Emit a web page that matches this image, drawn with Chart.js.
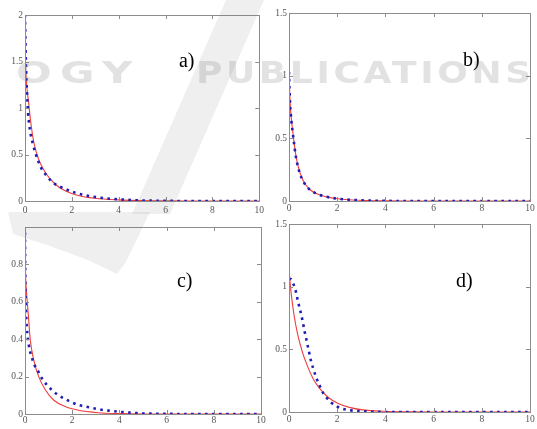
<!DOCTYPE html>
<html>
  <head>
    <script src="https://cdn.jsdelivr.net/npm/chart.js@4.4.0/dist/chart.umd.min.js"></script>
    <style type="text/css">
      body { margin: 0; background: #ffffff; }
      .page { position: relative; width: 537px; height: 429px; overflow: hidden; background: #ffffff; }
      .page canvas { position: absolute; }
      .mark { position: absolute; left: 0; top: 0; width: 537px; height: 429px; pointer-events: none; }
      .mark .word { position: absolute; top: 55px; white-space: nowrap; transform-origin: 0 0;
        font: bold 30px "DejaVu Sans"; color: rgba(110, 110, 110, 0.2); }
      .mark .w1 { left: 16px; letter-spacing: 6px; transform: scaleX(1.4); }
      .mark .w2 { left: 196px; letter-spacing: 3px; transform: scaleX(1.2); }
      .mark .slash { position: absolute; left: 0; top: 0; width: 537px; height: 429px;
        background: rgba(110, 110, 110, 0.11);
        clip-path: polygon(226px 0, 264px 0, 170px 214px, 132px 214px); }
      .mark .swoosh { position: absolute; left: 0; top: 0; width: 537px; height: 429px;
        background: rgba(110, 110, 110, 0.11);
        clip-path: polygon(8px 212px, 150px 212px, 126px 262px, 117px 274px, 88px 260px, 50px 246px, 13px 234px); }
    </style>
  </head>

  <body>
    <div class="page">
      <canvas id="pa" width="268" height="214" style="left: 0; top: 0;"></canvas>
      <canvas id="pb" width="269" height="214" style="left: 268px; top: 0;"></canvas>
      <canvas id="pc" width="268" height="215" style="left: 0; top: 214px;"></canvas>
      <canvas id="pd" width="269" height="215" style="left: 268px; top: 214px;"></canvas>
      <div class="mark">
        <div class="slash"></div>
        <div class="swoosh"></div>
        <div class="word w1">OGY</div>
        <div class="word w2">PUBLICATIONS</div>
      </div>
    </div>

    <script type="text/javascript">
      // x ticks shared by all four panels
      var xTicks = [0, 2, 4, 6, 8, 10];

      // panel a)
      var redA = [[0, 1.7], [0.03, 1.4], [0.08, 1.22], [0.16, 1.05], [0.22, 0.9], [0.37, 0.64], [0.58, 0.45],
        [0.86, 0.31], [1.29, 0.18], [1.71, 0.11], [2.27, 0.06], [2.98, 0.03], [4, 0.012], [5, 0.004], [6, 0.001], [7, 0], [10, 0]];
      var blueA = [[0, 2.0], [0.02, 1.7], [0.05, 1.4], [0.08, 1.2], [0.13, 0.95], [0.22, 0.75], [0.33, 0.62], [0.44, 0.52],
        [0.58, 0.42], [0.72, 0.34], [0.93, 0.27], [1.14, 0.21], [1.36, 0.17], [1.57, 0.145], [1.85, 0.115], [2.13, 0.09],
        [2.49, 0.065], [2.91, 0.046], [3.33, 0.032], [3.76, 0.022], [4.25, 0.014], [5, 0.006], [6, 0.002], [7, 0], [10, 0]];
      var yTicksA = [0, 0.5, 1, 1.5, 2];

      // panel b)
      var redB = [[0, 1.05], [0.02, 0.91], [0.05, 0.77], [0.1, 0.65], [0.14, 0.58], [0.21, 0.47], [0.28, 0.37], [0.39, 0.27],
        [0.53, 0.185], [0.69, 0.13], [0.9, 0.086], [1.18, 0.055], [1.52, 0.034], [1.94, 0.02], [2.5, 0.01], [3.2, 0.004],
        [4, 0.001], [5, 0], [10, 0]];
      var blueB = [[0, 1.03], [0.02, 0.9], [0.05, 0.76], [0.1, 0.64], [0.14, 0.57], [0.21, 0.46], [0.28, 0.36], [0.39, 0.26],
        [0.53, 0.18], [0.69, 0.128], [0.9, 0.085], [1.18, 0.055], [1.52, 0.035], [1.94, 0.02], [2.5, 0.01], [3.2, 0.004],
        [4, 0.001], [5, 0], [10, 0]];
      var yTicksB = [0, 0.5, 1, 1.5];

      // panel c)
      var redC = [[0, 0.85], [0.03, 0.72], [0.09, 0.61], [0.16, 0.5], [0.22, 0.4], [0.37, 0.29], [0.58, 0.2], [0.86, 0.13],
        [1.21, 0.075], [1.7, 0.04], [2.27, 0.02], [3.1, 0.007], [4, 0.002], [5, 0], [10, 0]];
      var blueC = [[0, 0.97], [0.01, 0.78], [0.02, 0.66], [0.04, 0.56], [0.08, 0.46], [0.16, 0.37], [0.27, 0.31], [0.41, 0.26],
        [0.55, 0.23], [0.72, 0.19], [0.93, 0.155], [1.14, 0.128], [1.36, 0.105], [1.64, 0.084], [1.92, 0.066], [2.27, 0.048],
        [2.7, 0.036], [3.12, 0.025], [3.55, 0.018], [3.97, 0.012], [4.4, 0.008], [5, 0.003], [6, 0.001], [7, 0], [10, 0]];
      var yTicksC = [0, 0.2, 0.4, 0.6, 0.8, 1];

      // panel d)
      var redD = [[0, 1.15], [0.05, 1.02], [0.1, 0.93], [0.22, 0.76], [0.36, 0.62], [0.57, 0.47], [0.78, 0.36], [0.99, 0.27],
        [1.26, 0.19], [1.61, 0.12], [2.02, 0.07], [2.5, 0.037], [3.06, 0.017], [3.9, 0.006], [5, 0.001], [6, 0], [10, 0]];
      var blueD = [[0, 1.06], [0.08, 1.06], [0.16, 1.03], [0.26, 0.98], [0.33, 0.92], [0.4, 0.86], [0.48, 0.8], [0.56, 0.73],
        [0.64, 0.65], [0.73, 0.57], [0.82, 0.49], [0.91, 0.41], [1.0, 0.35], [1.12, 0.28], [1.26, 0.215], [1.39, 0.16],
        [1.56, 0.114], [1.74, 0.077], [1.95, 0.048], [2.22, 0.026], [2.57, 0.013], [3, 0.006], [3.5, 0.002], [4, 0], [10, 0]];
      var yTicksD = [0, 0.5, 1, 1.5];

      var panelNames = ["a)", "b)", "c)", "d)"];

      var tickFont = { family: "Liberation Serif", size: 9.5 };
      var tickColor = "#555555";
      var boxColor = "#8c8c8c";

      var toPoints = function(pairs) {
        return pairs.map(function(p) { return { x: p[0], y: p[1] }; });
      };

      var fmt = function(v) {
        return String(Math.round(v * 10) / 10);
      };

      // matlab style box with inward ticks on all four sides + the panel name
      var boxPlugin = {
        id: "box",
        afterDatasetsDraw: function(chart, args, opts) {
          var ctx = chart.ctx, a = chart.chartArea;
          var xs = chart.scales.x, ys = chart.scales.y;
          ctx.save();
          ctx.strokeStyle = boxColor;
          ctx.lineWidth = 1;
          ctx.strokeRect(Math.round(a.left) + 0.5, Math.round(a.top) + 0.5,
            Math.round(a.right - a.left), Math.round(a.bottom - a.top));
          ctx.beginPath();
          xTicks.forEach(function(t) {
            var px = Math.round(xs.getPixelForValue(t)) + 0.5;
            ctx.moveTo(px, a.bottom); ctx.lineTo(px, a.bottom - 4);
            ctx.moveTo(px, a.top); ctx.lineTo(px, a.top + 4);
          });
          opts.yTicks.forEach(function(t) {
            var py = Math.round(ys.getPixelForValue(t)) + 0.5;
            ctx.moveTo(a.left, py); ctx.lineTo(a.left + 4, py);
            ctx.moveTo(a.right, py); ctx.lineTo(a.right - 4, py);
          });
          ctx.stroke();

          ctx.fillStyle = "#000000";
          ctx.font = '20px "Liberation Serif"';
          ctx.textBaseline = "alphabetic";
          ctx.fillText(opts.name, xs.getPixelForValue(opts.nameAt[0]), ys.getPixelForValue(opts.nameAt[1]));
          ctx.restore();
        }
      };

      var drawPanel = function(id, red, blue, yTicks, yMax, name, nameAt, lay) {
        var ctx = document.getElementById(id).getContext("2d");
        new Chart(ctx, {
          type: "line",
          data: {
            datasets: [
              {
                data: toPoints(blue),
                borderColor: "#1f1fb8",
                borderWidth: 2.6,
                borderDash: [2.6, 4.4],
                borderCapStyle: "butt",
                pointRadius: 0,
                cubicInterpolationMode: "monotone",
                fill: false
              },
              {
                data: toPoints(red),
                borderColor: "#ee3c3c",
                borderWidth: 1.1,
                pointRadius: 0,
                cubicInterpolationMode: "monotone",
                fill: false
              }
            ]
          },
          options: {
            responsive: false,
            animation: false,
            events: [],
            layout: { padding: { top: lay.top, right: lay.right, left: 0, bottom: 0 } },
            plugins: {
              legend: { display: false },
              tooltip: { enabled: false },
              box: { yTicks: yTicks, name: name, nameAt: nameAt }
            },
            scales: {
              x: {
                type: "linear",
                min: 0,
                max: 10,
                afterBuildTicks: function(s) { s.ticks = xTicks.map(function(v) { return { value: v }; }); },
                afterFit: function(s) { s.height = lay.xh; },
                grid: { display: false, drawTicks: false },
                border: { display: false },
                ticks: { font: tickFont, color: tickColor, padding: lay.xpad, maxRotation: 0,
                  callback: function(v) { return fmt(v); } }
              },
              y: {
                min: 0,
                max: yMax,
                afterBuildTicks: function(s) { s.ticks = yTicks.map(function(v) { return { value: v }; }); },
                afterFit: function(s) { s.width = lay.yw; },
                grid: { display: false, drawTicks: false },
                border: { display: false },
                ticks: { font: tickFont, color: tickColor, padding: 2,
                  callback: function(v) { return v > yMax - 0.001 && lay.hideTop ? "" : fmt(v); } }
              }
            }
          },
          plugins: [boxPlugin]
        });
      };

      drawPanel("pa", redA, blueA, yTicksA, 2, panelNames[0], [6.57, 1.44], { top: 15, right: 7, xh: 13, yw: 25, xpad: 4 });
      drawPanel("pb", redB, blueB, yTicksB, 1.5, panelNames[1], [7.22, 1.08], { top: 13, right: 7, xh: 13, yw: 21, xpad: 2 });
      drawPanel("pc", redC, blueC, yTicksC, 1, panelNames[2], [6.44, 0.68], { top: 13, right: 7, xh: 15, yw: 25, xpad: 1, hideTop: true });
      drawPanel("pd", redD, blueD, yTicksD, 1.5, panelNames[3], [6.93, 1.0], { top: 10, right: 7, xh: 17, yw: 21, xpad: 2 });
    </script>
  </body>
</html>
